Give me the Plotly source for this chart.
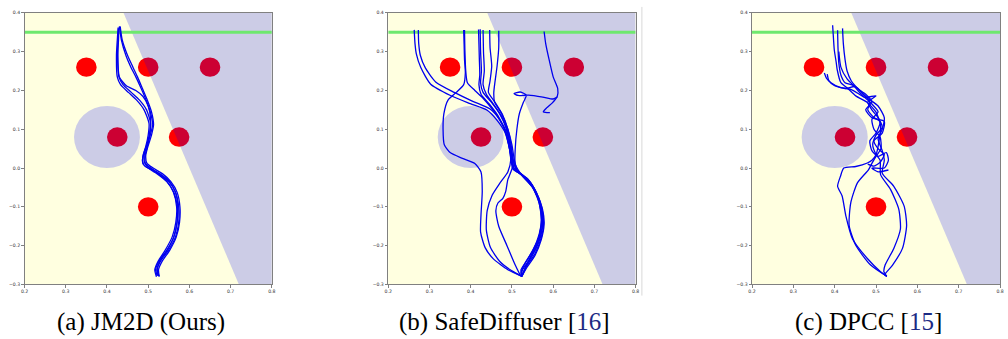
import plotly.graph_objects as go

# ---------------- data ----------------
X_RANGE = [0.2, 0.8]
Y_RANGE = [-0.3, 0.4]
X_TICKS = [0.2, 0.3, 0.4, 0.5, 0.6, 0.7, 0.8]
Y_TICKS = [-0.3, -0.2, -0.1, 0.0, 0.1, 0.2, 0.3, 0.4]

GOAL_Y = 0.35
OBST_X = [0.35, 0.5, 0.65, 0.425, 0.575, 0.5]
OBST_Y = [0.26, 0.26, 0.26, 0.08, 0.08, -0.1]
OBST_R = 0.025
CIRCLE_CX, CIRCLE_CY, CIRCLE_R = 0.4, 0.08, 0.08
# unsafe half-plane: x + 0.4*y > 0.6
HP_C, HP_K = 0.6, 0.4

CAPTIONS = ["(a) JM2D (Ours)",
            "(b) SafeDiffuser [<span style='color:#1c2a84'>16</span>]",
            "(c) DPCC [<span style='color:#1c2a84'>15</span>]"]

# ---- (a) JM2D trajectories ----
A_Y1 = [-0.278, -0.262, -0.240, -0.212, -0.178, -0.140, -0.100, -0.062, -0.035, -0.015, 0.000, 0.010,
        0.030, 0.055, 0.085, 0.115, 0.150, 0.175, 0.195, 0.215, 0.235, 0.290, 0.330, 0.362]
A1_X = [0.522, 0.518, 0.526, 0.545, 0.562, 0.570, 0.571, 0.562, 0.545, 0.522, 0.500, 0.488,
        0.487, 0.494, 0.500, 0.502, 0.490, 0.472, 0.452, 0.433, 0.425, 0.423, 0.425, 0.427]
A2_X = [0.524, 0.521, 0.530, 0.549, 0.566, 0.574, 0.574, 0.566, 0.550, 0.528, 0.506, 0.494,
        0.492, 0.498, 0.504, 0.506, 0.496, 0.479, 0.459, 0.439, 0.429, 0.426, 0.428, 0.429]
A_Y2 = [-0.280, -0.262, -0.240, -0.212, -0.178, -0.140, -0.100, -0.062, -0.035, -0.015, 0.000, 0.012,
        0.032, 0.058, 0.085, 0.112, 0.145, 0.175, 0.205, 0.235, 0.260, 0.290, 0.330, 0.365]
A3_X = [0.527, 0.525, 0.534, 0.552, 0.568, 0.576, 0.577, 0.570, 0.555, 0.535, 0.512, 0.497,
        0.494, 0.500, 0.508, 0.513, 0.508, 0.498, 0.486, 0.474, 0.463, 0.450, 0.437, 0.432]
A4_X = [0.520, 0.516, 0.524, 0.541, 0.558, 0.567, 0.569, 0.561, 0.546, 0.526, 0.505, 0.492,
        0.490, 0.497, 0.505, 0.511, 0.505, 0.495, 0.483, 0.470, 0.458, 0.446, 0.435, 0.430]
A5_X = [0.526, 0.522, 0.528, 0.546, 0.562, 0.570, 0.572, 0.566, 0.552, 0.532, 0.510, 0.492,
        0.486, 0.490, 0.498, 0.504, 0.506, 0.500, 0.487, 0.470, 0.447, 0.430, 0.426, 0.428]
A5_Y = [-0.279, -0.262, -0.240, -0.212, -0.178, -0.140, -0.100, -0.062, -0.035, -0.018, -0.005, 0.005,
        0.018, 0.040, 0.065, 0.095, 0.125, 0.160, 0.185, 0.200, 0.212, 0.235, 0.300, 0.358]
TRAJ_A = [(A1_X, A_Y1), (A2_X, A_Y1), (A3_X, A_Y2), (A4_X, A_Y2), (A5_X, A5_Y)]

# ---- (b) SafeDiffuser trajectories ----
B1_X = [0.263, 0.265, 0.268, 0.279, 0.303, 0.351, 0.399, 0.440, 0.464, 0.484, 0.494, 0.498, 0.502,
        0.520, 0.544, 0.562, 0.570, 0.570, 0.560, 0.540, 0.522, 0.524]
B1_Y = [0.356, 0.320, 0.295, 0.259, 0.216, 0.187, 0.166, 0.149, 0.123, 0.090, 0.050, 0.020, -0.002,
        -0.015, -0.037, -0.075, -0.115, -0.150, -0.190, -0.232, -0.262, -0.279]
B2_X = [0.273, 0.274, 0.278, 0.290, 0.315, 0.360, 0.405, 0.447, 0.470, 0.488, 0.497, 0.500, 0.506,
        0.526, 0.548, 0.565, 0.574, 0.573, 0.562, 0.543, 0.525, 0.524]
B2_Y = [0.356, 0.320, 0.290, 0.258, 0.222, 0.195, 0.172, 0.152, 0.125, 0.090, 0.050, 0.020, -0.005,
        -0.018, -0.042, -0.080, -0.120, -0.155, -0.195, -0.235, -0.264, -0.279]
B3_X = [0.383, 0.384, 0.385, 0.387, 0.383, 0.365, 0.345, 0.335, 0.333, 0.336, 0.350, 0.380, 0.410,
        0.425, 0.428, 0.425, 0.424, 0.435, 0.455, 0.490, 0.524]
B3_Y = [0.356, 0.320, 0.280, 0.245, 0.215, 0.195, 0.175, 0.140, 0.100, 0.060, 0.040, 0.025, 0.012,
        -0.010, -0.060, -0.120, -0.165, -0.205, -0.234, -0.262, -0.279]
B4_X = [0.385, 0.386, 0.388, 0.392, 0.410, 0.430, 0.450, 0.470, 0.486, 0.494, 0.497, 0.490, 0.470,
        0.452, 0.440, 0.438, 0.448, 0.470, 0.500, 0.524]
B4_Y = [0.356, 0.300, 0.250, 0.220, 0.200, 0.180, 0.155, 0.125, 0.090, 0.050, 0.020, -0.010, -0.040,
        -0.070, -0.110, -0.160, -0.205, -0.240, -0.265, -0.279]
B5_X = [0.419, 0.420, 0.421, 0.422, 0.420, 0.425, 0.445, 0.466, 0.482, 0.492, 0.498, 0.502, 0.490,
        0.485, 0.478, 0.466, 0.461, 0.468, 0.488, 0.508, 0.520, 0.524]
B5_Y = [0.357, 0.320, 0.280, 0.240, 0.215, 0.190, 0.165, 0.135, 0.100, 0.060, 0.030, 0.005, -0.030,
        -0.060, -0.078, -0.090, -0.110, -0.150, -0.200, -0.250, -0.275, -0.279]
B6_X = [0.423, 0.424, 0.426, 0.424, 0.430, 0.450, 0.470, 0.485, 0.494, 0.500, 0.505, 0.525, 0.550,
        0.566, 0.572, 0.568, 0.552, 0.532, 0.522, 0.524]
B6_Y = [0.358, 0.300, 0.250, 0.220, 0.195, 0.170, 0.140, 0.105, 0.065, 0.030, 0.000, -0.020, -0.050,
        -0.090, -0.130, -0.170, -0.210, -0.245, -0.270, -0.279]
B7_X = [0.430, 0.431, 0.433, 0.430, 0.438, 0.455, 0.474, 0.488, 0.496, 0.502, 0.510, 0.530, 0.554,
        0.569, 0.575, 0.570, 0.555, 0.535, 0.524]
B7_Y = [0.356, 0.300, 0.250, 0.215, 0.190, 0.165, 0.135, 0.100, 0.060, 0.025, -0.002, -0.022, -0.055,
        -0.095, -0.135, -0.175, -0.215, -0.250, -0.279]
B8_X = [0.446, 0.447, 0.451, 0.447, 0.443, 0.460, 0.477, 0.490, 0.498, 0.503, 0.512, 0.535, 0.558,
        0.572, 0.577, 0.571, 0.556, 0.536, 0.524]
B8_Y = [0.356, 0.310, 0.263, 0.225, 0.195, 0.168, 0.138, 0.100, 0.060, 0.020, -0.008, -0.025, -0.060,
        -0.100, -0.140, -0.180, -0.220, -0.252, -0.279]
B9_X = [0.468, 0.468, 0.464, 0.456, 0.458, 0.475, 0.490, 0.500, 0.506, 0.515, 0.540, 0.560, 0.574,
        0.578, 0.571, 0.556, 0.537, 0.524]
B9_Y = [0.354, 0.310, 0.263, 0.195, 0.170, 0.140, 0.100, 0.060, 0.020, -0.010, -0.030, -0.065, -0.105,
        -0.145, -0.185, -0.225, -0.255, -0.279]
B10_X = [0.578, 0.582, 0.590, 0.600, 0.611, 0.610, 0.598, 0.584, 0.576, 0.585, 0.592]
B10_Y = [0.352, 0.320, 0.280, 0.235, 0.205, 0.185, 0.168, 0.155, 0.145, 0.143, 0.143]
B11_X = [0.524, 0.540, 0.562, 0.572, 0.568, 0.550, 0.525, 0.508, 0.508, 0.512, 0.518, 0.528, 0.535,
         0.520, 0.505, 0.515, 0.540, 0.575, 0.600, 0.610]
B11_Y = [-0.279, -0.240, -0.190, -0.140, -0.090, -0.050, -0.020, 0.010, 0.050, 0.100, 0.140, 0.170,
         0.188, 0.196, 0.192, 0.187, 0.188, 0.183, 0.178, 0.183]
TRAJ_B = [(B1_X, B1_Y), (B2_X, B2_Y), (B3_X, B3_Y), (B4_X, B4_Y), (B5_X, B5_Y), (B6_X, B6_Y),
          (B7_X, B7_Y), (B8_X, B8_Y), (B9_X, B9_Y), (B10_X, B10_Y), (B11_X, B11_Y)]

# ---- (c) DPCC trajectories ----
C1_X = [0.395, 0.397, 0.399, 0.404, 0.406, 0.415, 0.430, 0.451, 0.479, 0.500, 0.511, 0.507, 0.500,
        0.490, 0.479, 0.451, 0.422, 0.414, 0.407, 0.418, 0.427, 0.443, 0.479, 0.511, 0.526]
C1_Y = [0.368, 0.335, 0.305, 0.270, 0.254, 0.220, 0.207, 0.186, 0.169, 0.144, 0.110, 0.068, 0.034,
        0.020, 0.013, 0.004, 0.000, -0.021, -0.047, -0.072, -0.123, -0.182, -0.233, -0.267, -0.279]
C2_X = [0.407, 0.408, 0.410, 0.415, 0.425, 0.445, 0.460, 0.475, 0.490, 0.505, 0.490, 0.495, 0.510,
        0.512, 0.500, 0.490, 0.482, 0.455, 0.439, 0.435, 0.451, 0.487, 0.526]
C2_Y = [0.355, 0.310, 0.270, 0.240, 0.220, 0.213, 0.195, 0.180, 0.165, 0.145, 0.125, 0.100, 0.080,
        0.050, 0.030, 0.012, -0.004, -0.038, -0.089, -0.148, -0.199, -0.250, -0.279]
C3_X = [0.419, 0.421, 0.425, 0.430, 0.440, 0.460, 0.480, 0.505, 0.520, 0.515, 0.505, 0.515, 0.520,
        0.515, 0.543, 0.568, 0.574, 0.564, 0.540, 0.521, 0.526]
C3_Y = [0.360, 0.320, 0.280, 0.250, 0.225, 0.200, 0.180, 0.160, 0.130, 0.100, 0.075, 0.045, 0.020,
        -0.013, -0.047, -0.098, -0.148, -0.207, -0.250, -0.275, -0.279]
C4_X = [0.375, 0.380, 0.391, 0.415, 0.439, 0.460, 0.472, 0.500, 0.480, 0.490, 0.505, 0.515, 0.500,
        0.492, 0.500, 0.510, 0.511, 0.535, 0.555, 0.559, 0.543, 0.522, 0.519, 0.526]
C4_Y = [0.245, 0.232, 0.220, 0.207, 0.203, 0.190, 0.182, 0.186, 0.170, 0.150, 0.130, 0.105, 0.085,
        0.060, 0.035, 0.020, -0.017, -0.055, -0.106, -0.157, -0.207, -0.250, -0.267, -0.279]
C5_X = [0.382, 0.386, 0.400, 0.425, 0.450, 0.470, 0.485, 0.480, 0.495, 0.510, 0.500, 0.485, 0.490,
        0.505, 0.525, 0.530, 0.520, 0.490, 0.505, 0.530]
C5_Y = [0.242, 0.225, 0.212, 0.205, 0.210, 0.190, 0.170, 0.150, 0.130, 0.120, 0.090, 0.070, 0.045,
        0.030, 0.040, 0.020, 0.000, 0.000, -0.010, -0.005]
C6_X = [0.410, 0.415, 0.430, 0.455, 0.475, 0.490, 0.475, 0.490, 0.520, 0.515, 0.495, 0.505, 0.520,
        0.510, 0.495, 0.480]
C6_Y = [0.300, 0.260, 0.230, 0.205, 0.190, 0.170, 0.150, 0.130, 0.120, 0.090, 0.070, 0.050, 0.035,
        0.015, 0.005, 0.010]
TRAJ_C = [(C1_X, C1_Y), (C2_X, C2_Y), (C3_X, C3_Y), (C4_X, C4_Y), (C5_X, C5_Y), (C6_X, C6_Y)]

PANELS = [TRAJ_A, TRAJ_B, TRAJ_C]

# ---------------- style / layout ----------------
W, H = 1008, 339
X_DOMAINS = [[20.7 / W, 270 / W], [387.3 / W, 636.7 / W], [754 / W, 1004 / W]]
Y_DOMAIN = [(H - 286.7) / H, (H - 11) / H]
CAPTION_X = [138.5 / W, 505 / W, 871.5 / W]
CAPTION_Y = (H - 324.5) / H

BG_YELLOW = "#FFFFE0"
BLUE_FILL = "rgba(0,0,255,0.2)"
RED = "#FF0000"
GREEN = "rgb(110,232,110)"
LINE_BLUE = "#0000EE"
FRAME = "#808080"

fig = go.Figure()
shapes = []
annotations = []

for i, trajs in enumerate(PANELS):
    sfx = "" if i == 0 else str(i + 1)
    xr, yr = "x" + sfx, "y" + sfx
    # red obstacles
    for cx, cy in zip(OBST_X, OBST_Y):
        shapes.append(dict(type="circle", xref=xr, yref=yr, layer="below",
                           x0=cx - OBST_R, x1=cx + OBST_R, y0=cy - OBST_R, y1=cy + OBST_R,
                           fillcolor=RED, line=dict(width=0)))
    # blue circular region
    shapes.append(dict(type="circle", xref=xr, yref=yr, layer="below",
                       x0=CIRCLE_CX - CIRCLE_R, x1=CIRCLE_CX + CIRCLE_R,
                       y0=CIRCLE_CY - CIRCLE_R, y1=CIRCLE_CY + CIRCLE_R,
                       fillcolor=BLUE_FILL, line=dict(width=0)))
    # blue half-plane region
    xt = HP_C - HP_K * Y_RANGE[1]
    xb = HP_C - HP_K * Y_RANGE[0]
    path = (f"M {xt},{Y_RANGE[1]} L {X_RANGE[1]},{Y_RANGE[1]} "
            f"L {X_RANGE[1]},{Y_RANGE[0]} L {xb},{Y_RANGE[0]} Z")
    shapes.append(dict(type="path", path=path, xref=xr, yref=yr, layer="below",
                       fillcolor=BLUE_FILL, line=dict(width=0)))
    # goal line
    shapes.append(dict(type="line", xref=xr, yref=yr, layer="below",
                       x0=X_RANGE[0], x1=X_RANGE[1], y0=GOAL_Y, y1=GOAL_Y,
                       line=dict(color=GREEN, width=3)))
    # trajectories
    for tx, ty in trajs:
        fig.add_trace(go.Scatter(x=tx, y=ty, mode="lines", xaxis=xr, yaxis=yr,
                                 line=dict(color=LINE_BLUE, width=1.3, shape="spline", smoothing=0.6),
                                 showlegend=False, hoverinfo="skip"))
    axis_common = dict(showline=True, mirror=True, linecolor=FRAME, linewidth=1,
                       ticks="outside", ticklen=2.5, tickwidth=0.8, tickcolor=FRAME,
                       tickfont=dict(family="DejaVu Sans", size=4.6, color="#333333"),
                       showgrid=False, zeroline=False, tickformat=".1f", fixedrange=True)
    fig.update_layout(**{
        "xaxis" + sfx: dict(domain=X_DOMAINS[i], range=X_RANGE, tickvals=X_TICKS,
                            anchor=yr, **axis_common),
        "yaxis" + sfx: dict(domain=Y_DOMAIN, range=Y_RANGE, tickvals=Y_TICKS,
                            anchor=xr, **axis_common),
    })
    annotations.append(dict(text=CAPTIONS[i], xref="paper", yref="paper",
                            x=CAPTION_X[i], y=CAPTION_Y, xanchor="center", yanchor="middle",
                            showarrow=False,
                            font=dict(family="Liberation Serif", size=25, color="black")))

# thin page-edge artifact right of panel (b)
shapes.append(dict(type="line", xref="paper", yref="paper", x0=643 / W, x1=643 / W,
                   y0=(H - 298) / H, y1=(H - 5) / H, line=dict(color="#d8d8d8", width=1)))

fig.update_layout(width=W, height=H, margin=dict(l=0, r=0, t=0, b=0),
                  paper_bgcolor="white", plot_bgcolor=BG_YELLOW,
                  shapes=shapes, annotations=annotations, showlegend=False)

fig.write_html("out.html")
